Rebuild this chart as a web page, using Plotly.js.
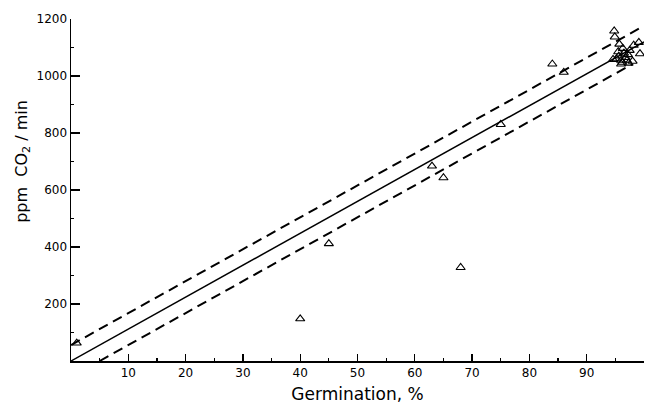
<!DOCTYPE html>
<html>
<head>
<meta charset="utf-8">
<script src="https://cdn.plot.ly/plotly-3.0.1.min.js"></script>
<style>html,body{margin:0;padding:0;background:#fff;}#chart{width:654px;height:404px;}</style>
</head>
<body>
<div id="chart"></div>
<script>
// Observed points: germination (%) vs respiration (ppm CO2/min)
const germination = [1, 40, 45, 63, 65, 68, 75, 84, 86,
  94.8, 94.9, 95.7, 96.3, 95.5, 96.5, 97.2, 95.6, 96.8, 95.2, 96.0, 97.0, 94.6, 96.2, 97.3, 98.0, 98.2, 99.1, 99.3, 97.5, 96.0];
const co2Rate = [63, 148, 412, 684, 643, 328, 830, 1042, 1013,
  1158, 1137, 1112, 1097, 1085, 1080, 1075, 1070, 1065, 1060, 1055, 1055, 1058, 1048, 1045, 1052, 1108, 1118, 1078, 1090, 1042];

// Regression line and confidence band endpoints
const fitX = [0, 100];
const fitY = [0, 1120];
const upperX = [0, 100];
const upperY = [56, 1176];
const lowerX = [5, 98];
const lowerY = [0, 1042];

// Tick labels
const xTickVals = [10, 20, 30, 40, 50, 60, 70, 80, 90];
const xTickText = ['10', '20', '30', '40', '50', '60', '70', '80', '90'];
const yTickVals = [200, 400, 600, 800, 1000, 1200];
const yTickText = ['200', '400', '600', '800', '1000', '1200'];

const font = 'DejaVu Sans, sans-serif';

const traces = [
  {x: fitX, y: fitY, mode: 'lines', line: {color: '#000', width: 1.5}, hoverinfo: 'skip'},
  {x: upperX, y: upperY, mode: 'lines', line: {color: '#000', width: 2, dash: '10px,6px'}, hoverinfo: 'skip'},
  {x: lowerX, y: lowerY, mode: 'lines', line: {color: '#000', width: 2, dash: '10px,6px'}, hoverinfo: 'skip'},
  {x: germination, y: co2Rate, mode: 'markers',
   marker: {symbol: 'triangle-up-open', size: 8, color: '#000', line: {width: 1.1, color: '#000'}}}
];

const layout = {
  width: 654, height: 404,
  margin: {l: 71, r: 10, t: 19, b: 43, pad: 0},
  paper_bgcolor: '#fff', plot_bgcolor: '#fff',
  showlegend: false,
  font: {family: font, color: '#000', size: 12},
  xaxis: {
    range: [0, 100], showgrid: false, zeroline: false,
    showline: true, linecolor: '#000', linewidth: 1.5,
    ticks: 'inside', ticklen: 7, tickwidth: 1.3, tickcolor: '#000',
    tickmode: 'array', tickvals: xTickVals, ticktext: xTickText,
    tickfont: {family: font, size: 12},
    minor: {ticks: 'inside', ticklen: 3, tickwidth: 1.2, tickcolor: '#000', dtick: 5, showgrid: false},
    title: {text: 'Germination, %', font: {family: font, size: 17}, standoff: 10},
    fixedrange: true
  },
  yaxis: {
    range: [0, 1200], showgrid: false, zeroline: false,
    showline: true, linecolor: '#000', linewidth: 1.5,
    ticks: 'inside', ticklen: 9, tickwidth: 1.3, tickcolor: '#000',
    tickmode: 'array', tickvals: yTickVals, ticktext: yTickText,
    tickfont: {family: font, size: 12},
    minor: {ticks: 'inside', ticklen: 3, tickwidth: 1.2, tickcolor: '#000', dtick: 100, showgrid: false},
    fixedrange: true
  },
  annotations: [{
    text: 'ppm&nbsp;&nbsp;CO<sub>2</sub> / min', textangle: -90,
    xref: 'paper', yref: 'paper', x: -0.084, y: 0.585,
    xanchor: 'center', yanchor: 'middle', showarrow: false,
    font: {family: font, size: 16, color: '#000'}
  }]
};

Plotly.newPlot('chart', traces, layout, {displayModeBar: false, staticPlot: true});
</script>
</body>
</html>
